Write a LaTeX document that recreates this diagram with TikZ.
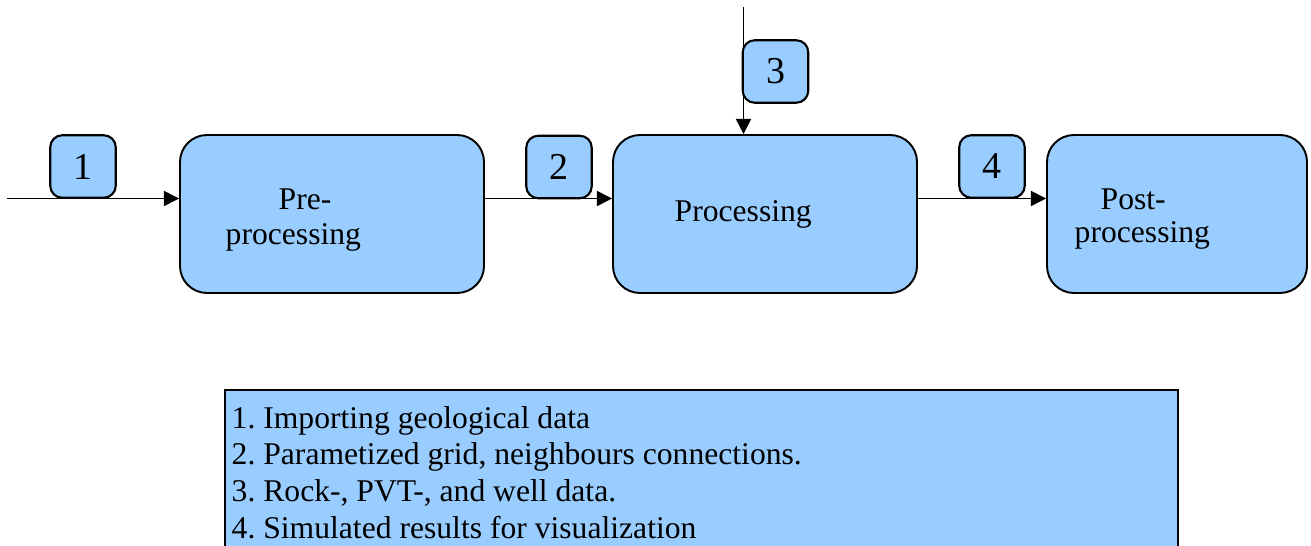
\documentclass[tikz,border=0pt]{standalone}
\usepackage{fontspec}
\setmainfont{Liberation Serif}
\newfontfamily\timesfont{Liberation Serif}
\frenchspacing
\usetikzlibrary{arrows.meta}
\definecolor{boxblue}{RGB}{153,204,255}
\tikzset{
  stage/.style={draw=black, line width=0.55pt, fill=boxblue, rounded corners=0.27cm,
    minimum width=3.04cm, minimum height=1.58cm, inner sep=0pt},
  tag/.style={draw=black, line width=0.6pt, fill=boxblue, rounded corners=0.12cm,
    minimum width=0.655cm, minimum height=0.625cm, inner sep=0pt,
    font=\timesfont\fontsize{10.8}{12}\selectfont},
  stagetext/.style={inner sep=0pt, align=left, font=\timesfont\fontsize{9}{9.4}\selectfont},
  arr/.style={line width=0.4pt, -{Triangle[length=4.3pt,width=4.3pt]}},
  legendbox/.style={draw=black, line width=0.65pt, fill=boxblue, inner sep=0pt},
  legendtext/.style={inner sep=0pt, align=left, font=\timesfont\fontsize{9}{10.45}\selectfont}
}
\begin{document}
\begin{tikzpicture}[x=1cm,y=1cm]
\useasboundingbox (0,0) rectangle (13.11,-5.46);
% main stages
\node[stage] (pre) at (3.32,-2.14) {};
\node[stage] (proc) at (7.65,-2.14) {};
\node[stage, minimum width=2.6cm] (post) at (11.77,-2.14) {};
\node[stagetext, anchor=base west] (pretxt) at (2.78,-2.10) {Pre-};
\node[stagetext, anchor=base west] (pretxt2) at (2.25,-2.45) {processing};
\node[stagetext, anchor=base west] (proctxt) at (6.74,-2.22) {Processing};
\node[stagetext, anchor=base west] (posttxt) at (11.00,-2.10) {Post-};
\node[stagetext, anchor=base west] (posttxt2) at (10.74,-2.43) {processing};
% connectors
\coordinate (in1) at (0.07,-1.985);
\coordinate (in3) at (7.435,-0.07);
\draw[arr] (in1) -- (in1 -| pre.west);
\draw[arr] (pre.east |- in1) -- (proc.west |- in1);
\draw[arr] (proc.east |- in1) -- (post.west |- in1);
\draw[arr] (in3) -- (in3 |- proc.north);
% tags
\node[tag] (t1) at (0.83,-1.665) {1};
\node[tag] (t2) at (5.59,-1.67) {2};
\node[tag] (t3) at (7.755,-0.715) {3};
\node[tag] (t4) at (9.92,-1.665) {4};
% legend
\node[legendbox, anchor=north west, minimum width=9.53cm, minimum height=2.0cm] (legend) at (2.24,-3.89) {};
\node[legendtext, anchor=north west] (legendtxt) at (2.31,-4.055)
  {1. Importing geological data\\
   2. Parametized grid, neighbours connections.\\
   3. Rock-, PVT-, and well data.\\
   4. Simulated results for visualization};
\end{tikzpicture}
\end{document}
